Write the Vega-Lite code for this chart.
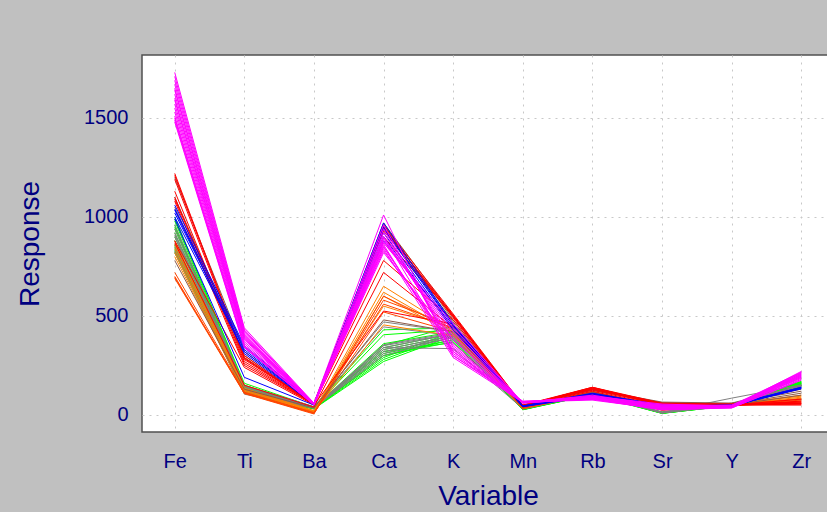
{
  "$schema": "https://vega.github.io/schema/vega-lite/v6.json",
  "autosize": "none",
  "width": 692,
  "height": 377,
  "padding": {"left": 142, "top": 55, "right": 0, "bottom": 80},
  "background": "#C0C0C0",
  "data": {
    "values": [
      {"id": "g1", "g": "green", "Fe": 1000, "Ti": 150, "Ba": 40, "Ca": 430, "K": 440, "Mn": 30, "Rb": 110, "Sr": 10, "Y": 50, "Zr": 165},
      {"id": "g2", "g": "green", "Fe": 980, "Ti": 145, "Ba": 38, "Ca": 405, "K": 430, "Mn": 28, "Rb": 105, "Sr": 12, "Y": 52, "Zr": 160},
      {"id": "g3", "g": "green", "Fe": 960, "Ti": 140, "Ba": 37, "Ca": 360, "K": 420, "Mn": 30, "Rb": 108, "Sr": 15, "Y": 55, "Zr": 155},
      {"id": "g4", "g": "green", "Fe": 950, "Ti": 135, "Ba": 36, "Ca": 340, "K": 410, "Mn": 29, "Rb": 110, "Sr": 10, "Y": 50, "Zr": 170},
      {"id": "g5", "g": "green", "Fe": 940, "Ti": 130, "Ba": 35, "Ca": 330, "K": 400, "Mn": 30, "Rb": 100, "Sr": 8, "Y": 48, "Zr": 150},
      {"id": "g6", "g": "green", "Fe": 920, "Ti": 140, "Ba": 37, "Ca": 320, "K": 390, "Mn": 31, "Rb": 105, "Sr": 12, "Y": 50, "Zr": 160},
      {"id": "g7", "g": "green", "Fe": 900, "Ti": 125, "Ba": 34, "Ca": 310, "K": 380, "Mn": 28, "Rb": 112, "Sr": 10, "Y": 52, "Zr": 165},
      {"id": "g8", "g": "green", "Fe": 880, "Ti": 120, "Ba": 33, "Ca": 300, "K": 370, "Mn": 27, "Rb": 108, "Sr": 9, "Y": 50, "Zr": 145},
      {"id": "g9", "g": "green", "Fe": 860, "Ti": 130, "Ba": 35, "Ca": 290, "K": 420, "Mn": 29, "Rb": 104, "Sr": 11, "Y": 49, "Zr": 155},
      {"id": "g10", "g": "green", "Fe": 850, "Ti": 115, "Ba": 32, "Ca": 280, "K": 410, "Mn": 30, "Rb": 106, "Sr": 10, "Y": 51, "Zr": 160},
      {"id": "g11", "g": "green", "Fe": 840, "Ti": 110, "Ba": 31, "Ca": 270, "K": 400, "Mn": 26, "Rb": 103, "Sr": 8, "Y": 48, "Zr": 150},
      {"id": "g12", "g": "green", "Fe": 830, "Ti": 120, "Ba": 34, "Ca": 350, "K": 450, "Mn": 28, "Rb": 110, "Sr": 12, "Y": 50, "Zr": 168},
      {"id": "g13", "g": "green", "Fe": 820, "Ti": 110, "Ba": 30, "Ca": 300, "K": 380, "Mn": 27, "Rb": 102, "Sr": 9, "Y": 47, "Zr": 158},
      {"id": "g14", "g": "green", "Fe": 990, "Ti": 160, "Ba": 40, "Ca": 320, "K": 365, "Mn": 30, "Rb": 109, "Sr": 13, "Y": 53, "Zr": 162},
      {"id": "gr1", "g": "gray", "Fe": 960, "Ti": 150, "Ba": 42, "Ca": 470, "K": 420, "Mn": 35, "Rb": 115, "Sr": 15, "Y": 55, "Zr": 150},
      {"id": "gr2", "g": "gray", "Fe": 940, "Ti": 145, "Ba": 40, "Ca": 445, "K": 400, "Mn": 34, "Rb": 112, "Sr": 12, "Y": 60, "Zr": 148},
      {"id": "gr3", "g": "gray", "Fe": 920, "Ti": 140, "Ba": 40, "Ca": 350, "K": 410, "Mn": 33, "Rb": 110, "Sr": 14, "Y": 85, "Zr": 152},
      {"id": "gr4", "g": "gray", "Fe": 910, "Ti": 135, "Ba": 39, "Ca": 340, "K": 335, "Mn": 32, "Rb": 108, "Sr": 12, "Y": 55, "Zr": 145},
      {"id": "gr5", "g": "gray", "Fe": 900, "Ti": 130, "Ba": 38, "Ca": 330, "K": 400, "Mn": 33, "Rb": 112, "Sr": 10, "Y": 50, "Zr": 150},
      {"id": "gr6", "g": "gray", "Fe": 880, "Ti": 125, "Ba": 37, "Ca": 320, "K": 390, "Mn": 32, "Rb": 110, "Sr": 12, "Y": 52, "Zr": 148},
      {"id": "gr7", "g": "gray", "Fe": 860, "Ti": 120, "Ba": 36, "Ca": 310, "K": 405, "Mn": 31, "Rb": 108, "Sr": 11, "Y": 53, "Zr": 146},
      {"id": "gr8", "g": "gray", "Fe": 850, "Ti": 115, "Ba": 35, "Ca": 300, "K": 395, "Mn": 30, "Rb": 106, "Sr": 10, "Y": 50, "Zr": 150},
      {"id": "gr9", "g": "gray", "Fe": 830, "Ti": 110, "Ba": 35, "Ca": 340, "K": 410, "Mn": 32, "Rb": 110, "Sr": 12, "Y": 52, "Zr": 150},
      {"id": "gr10", "g": "gray", "Fe": 820, "Ti": 105, "Ba": 34, "Ca": 355, "K": 415, "Mn": 31, "Rb": 107, "Sr": 11, "Y": 51, "Zr": 147},
      {"id": "o1", "g": "orange", "Fe": 860, "Ti": 130, "Ba": 20, "Ca": 650, "K": 430, "Mn": 35, "Rb": 115, "Sr": 30, "Y": 55, "Zr": 95},
      {"id": "o2", "g": "orange", "Fe": 840, "Ti": 125, "Ba": 18, "Ca": 620, "K": 420, "Mn": 34, "Rb": 112, "Sr": 28, "Y": 52, "Zr": 90},
      {"id": "o3", "g": "orange", "Fe": 820, "Ti": 120, "Ba": 16, "Ca": 600, "K": 410, "Mn": 33, "Rb": 110, "Sr": 25, "Y": 50, "Zr": 85},
      {"id": "o4", "g": "orange", "Fe": 800, "Ti": 115, "Ba": 15, "Ca": 455, "K": 400, "Mn": 32, "Rb": 108, "Sr": 27, "Y": 53, "Zr": 80},
      {"id": "o5", "g": "orange", "Fe": 880, "Ti": 135, "Ba": 22, "Ca": 550, "K": 440, "Mn": 36, "Rb": 118, "Sr": 32, "Y": 55, "Zr": 100},
      {"id": "or1", "g": "orangered", "Fe": 700, "Ti": 110, "Ba": 8, "Ca": 560, "K": 440, "Mn": 33, "Rb": 110, "Sr": 25, "Y": 50, "Zr": 75},
      {"id": "or2", "g": "orangered", "Fe": 690, "Ti": 108, "Ba": 5, "Ca": 600, "K": 430, "Mn": 32, "Rb": 108, "Sr": 24, "Y": 52, "Zr": 70},
      {"id": "or3", "g": "orangered", "Fe": 695, "Ti": 112, "Ba": 10, "Ca": 520, "K": 420, "Mn": 34, "Rb": 112, "Sr": 26, "Y": 48, "Zr": 65},
      {"id": "or4", "g": "orangered", "Fe": 720, "Ti": 115, "Ba": 12, "Ca": 580, "K": 450, "Mn": 35, "Rb": 115, "Sr": 28, "Y": 55, "Zr": 80},
      {"id": "b1", "g": "brown", "Fe": 1200, "Ti": 320, "Ba": 58, "Ca": 970, "K": 500, "Mn": 50, "Rb": 130, "Sr": 65, "Y": 60, "Zr": 120},
      {"id": "b2", "g": "brown", "Fe": 1100, "Ti": 300, "Ba": 55, "Ca": 960, "K": 480, "Mn": 48, "Rb": 128, "Sr": 62, "Y": 55, "Zr": 110},
      {"id": "b3", "g": "brown", "Fe": 1050, "Ti": 290, "Ba": 54, "Ca": 940, "K": 470, "Mn": 46, "Rb": 125, "Sr": 60, "Y": 58, "Zr": 130},
      {"id": "b4", "g": "brown", "Fe": 780, "Ti": 130, "Ba": 35, "Ca": 480, "K": 420, "Mn": 38, "Rb": 115, "Sr": 40, "Y": 50, "Zr": 100},
      {"id": "r1", "g": "red", "Fe": 1220, "Ti": 290, "Ba": 58, "Ca": 960, "K": 510, "Mn": 50, "Rb": 140, "Sr": 60, "Y": 55, "Zr": 55},
      {"id": "r2", "g": "red", "Fe": 1210, "Ti": 285, "Ba": 57, "Ca": 950, "K": 500, "Mn": 48, "Rb": 138, "Sr": 58, "Y": 52, "Zr": 60},
      {"id": "r3", "g": "red", "Fe": 1190, "Ti": 280, "Ba": 56, "Ca": 940, "K": 505, "Mn": 47, "Rb": 135, "Sr": 55, "Y": 50, "Zr": 50},
      {"id": "r4", "g": "red", "Fe": 1130, "Ti": 270, "Ba": 55, "Ca": 930, "K": 495, "Mn": 45, "Rb": 140, "Sr": 50, "Y": 55, "Zr": 65},
      {"id": "r5", "g": "red", "Fe": 1100, "Ti": 260, "Ba": 55, "Ca": 950, "K": 490, "Mn": 46, "Rb": 130, "Sr": 52, "Y": 50, "Zr": 55},
      {"id": "r6", "g": "red", "Fe": 1080, "Ti": 250, "Ba": 54, "Ca": 780, "K": 480, "Mn": 44, "Rb": 135, "Sr": 48, "Y": 48, "Zr": 70},
      {"id": "r7", "g": "red", "Fe": 870, "Ti": 150, "Ba": 40, "Ca": 720, "K": 440, "Mn": 40, "Rb": 120, "Sr": 40, "Y": 50, "Zr": 80},
      {"id": "r8", "g": "red", "Fe": 880, "Ti": 240, "Ba": 50, "Ca": 525, "K": 460, "Mn": 42, "Rb": 125, "Sr": 45, "Y": 52, "Zr": 60},
      {"id": "r9", "g": "red", "Fe": 1090, "Ti": 300, "Ba": 55, "Ca": 900, "K": 500, "Mn": 45, "Rb": 132, "Sr": 50, "Y": 50, "Zr": 58},
      {"id": "bl1", "g": "blue", "Fe": 1060, "Ti": 350, "Ba": 58, "Ca": 970, "K": 460, "Mn": 45, "Rb": 110, "Sr": 50, "Y": 45, "Zr": 135},
      {"id": "bl2", "g": "blue", "Fe": 1040, "Ti": 340, "Ba": 57, "Ca": 940, "K": 450, "Mn": 44, "Rb": 105, "Sr": 45, "Y": 50, "Zr": 140},
      {"id": "bl3", "g": "blue", "Fe": 1020, "Ti": 330, "Ba": 56, "Ca": 920, "K": 440, "Mn": 42, "Rb": 100, "Sr": 45, "Y": 48, "Zr": 138},
      {"id": "bl4", "g": "blue", "Fe": 1000, "Ti": 320, "Ba": 55, "Ca": 900, "K": 430, "Mn": 43, "Rb": 100, "Sr": 48, "Y": 46, "Zr": 135},
      {"id": "bl5", "g": "blue", "Fe": 990, "Ti": 190, "Ba": 50, "Ca": 880, "K": 440, "Mn": 42, "Rb": 95, "Sr": 44, "Y": 50, "Zr": 140},
      {"id": "bl6", "g": "blue", "Fe": 1035, "Ti": 310, "Ba": 55, "Ca": 950, "K": 455, "Mn": 46, "Rb": 108, "Sr": 47, "Y": 47, "Zr": 132},
      {"id": "m1", "g": "magenta", "Fe": 1730, "Ti": 440, "Ba": 60, "Ca": 1010, "K": 300, "Mn": 70, "Rb": 80, "Sr": 40, "Y": 40, "Zr": 220},
      {"id": "m2", "g": "magenta", "Fe": 1710, "Ti": 430, "Ba": 58, "Ca": 960, "K": 320, "Mn": 68, "Rb": 85, "Sr": 45, "Y": 42, "Zr": 215},
      {"id": "m3", "g": "magenta", "Fe": 1690, "Ti": 425, "Ba": 57, "Ca": 940, "K": 340, "Mn": 66, "Rb": 90, "Sr": 50, "Y": 45, "Zr": 210},
      {"id": "m4", "g": "magenta", "Fe": 1670, "Ti": 420, "Ba": 56, "Ca": 920, "K": 360, "Mn": 65, "Rb": 80, "Sr": 35, "Y": 40, "Zr": 205},
      {"id": "m5", "g": "magenta", "Fe": 1650, "Ti": 410, "Ba": 55, "Ca": 900, "K": 380, "Mn": 64, "Rb": 95, "Sr": 55, "Y": 45, "Zr": 200},
      {"id": "m6", "g": "magenta", "Fe": 1640, "Ti": 405, "Ba": 56, "Ca": 890, "K": 400, "Mn": 62, "Rb": 90, "Sr": 40, "Y": 50, "Zr": 195},
      {"id": "m7", "g": "magenta", "Fe": 1620, "Ti": 400, "Ba": 55, "Ca": 880, "K": 420, "Mn": 60, "Rb": 85, "Sr": 30, "Y": 38, "Zr": 190},
      {"id": "m8", "g": "magenta", "Fe": 1600, "Ti": 395, "Ba": 54, "Ca": 870, "K": 440, "Mn": 62, "Rb": 100, "Sr": 45, "Y": 45, "Zr": 210},
      {"id": "m9", "g": "magenta", "Fe": 1590, "Ti": 390, "Ba": 55, "Ca": 860, "K": 300, "Mn": 66, "Rb": 75, "Sr": 30, "Y": 40, "Zr": 185},
      {"id": "m10", "g": "magenta", "Fe": 1570, "Ti": 385, "Ba": 53, "Ca": 850, "K": 320, "Mn": 65, "Rb": 80, "Sr": 28, "Y": 35, "Zr": 180},
      {"id": "m11", "g": "magenta", "Fe": 1550, "Ti": 380, "Ba": 52, "Ca": 840, "K": 290, "Mn": 63, "Rb": 90, "Sr": 40, "Y": 42, "Zr": 200},
      {"id": "m12", "g": "magenta", "Fe": 1530, "Ti": 370, "Ba": 54, "Ca": 830, "K": 350, "Mn": 60, "Rb": 85, "Sr": 35, "Y": 40, "Zr": 195},
      {"id": "m13", "g": "magenta", "Fe": 1510, "Ti": 360, "Ba": 52, "Ca": 900, "K": 310, "Mn": 64, "Rb": 95, "Sr": 50, "Y": 48, "Zr": 215},
      {"id": "m14", "g": "magenta", "Fe": 1500, "Ti": 350, "Ba": 51, "Ca": 820, "K": 380, "Mn": 62, "Rb": 80, "Sr": 25, "Y": 36, "Zr": 175},
      {"id": "m15", "g": "magenta", "Fe": 1490, "Ti": 345, "Ba": 50, "Ca": 870, "K": 460, "Mn": 61, "Rb": 88, "Sr": 45, "Y": 44, "Zr": 205},
      {"id": "m16", "g": "magenta", "Fe": 1480, "Ti": 340, "Ba": 52, "Ca": 850, "K": 330, "Mn": 65, "Rb": 82, "Sr": 38, "Y": 40, "Zr": 190}
    ]
  },
  "transform": [
    {"fold": ["Fe", "Ti", "Ba", "Ca", "K", "Mn", "Rb", "Sr", "Y", "Zr"], "as": ["Variable", "Response"]}
  ],
  "mark": {"type": "line", "strokeWidth": 1, "clip": true},
  "encoding": {
    "x": {
      "field": "Variable",
      "type": "nominal",
      "sort": ["Fe", "Ti", "Ba", "Ca", "K", "Mn", "Rb", "Sr", "Y", "Zr"],
      "scale": {"type": "point", "padding": 0.47},
      "axis": {
        "title": "Variable",
        "labelAngle": 0,
        "ticks": false,
        "domain": false,
        "labelPadding": 19,
        "titlePadding": 11
      }
    },
    "y": {
      "field": "Response",
      "type": "quantitative",
      "scale": {"domain": [-86, 1818], "nice": false, "zero": false},
      "axis": {
        "title": "Response",
        "values": [0, 500, 1000, 1500],
        "format": "d",
        "ticks": false,
        "domain": false,
        "labelPadding": 14,
        "titlePadding": 39
      }
    },
    "color": {
      "field": "g",
      "type": "nominal",
      "scale": {
        "domain": ["green", "gray", "orange", "orangered", "brown", "red", "blue", "magenta"],
        "range": ["#00FF00", "#808080", "#FF8000", "#FF4500", "#8B5A4A", "#FF0000", "#0000FF", "#FF00FF"]
      },
      "legend": null
    },
    "detail": {"field": "id", "type": "nominal"}
  },
  "config": {
    "view": {"fill": "#FFFFFF", "stroke": "#505050", "strokeWidth": 1.5},
    "axis": {
      "labelFont": "Liberation Sans",
      "titleFont": "Liberation Sans",
      "labelFontSize": 20,
      "titleFontSize": 28,
      "titleFontWeight": "normal",
      "labelColor": "#000080",
      "titleColor": "#000080",
      "grid": true,
      "gridColor": "#C8C8C8",
      "gridDash": [2, 5],
      "gridWidth": 1
    }
  }
}
